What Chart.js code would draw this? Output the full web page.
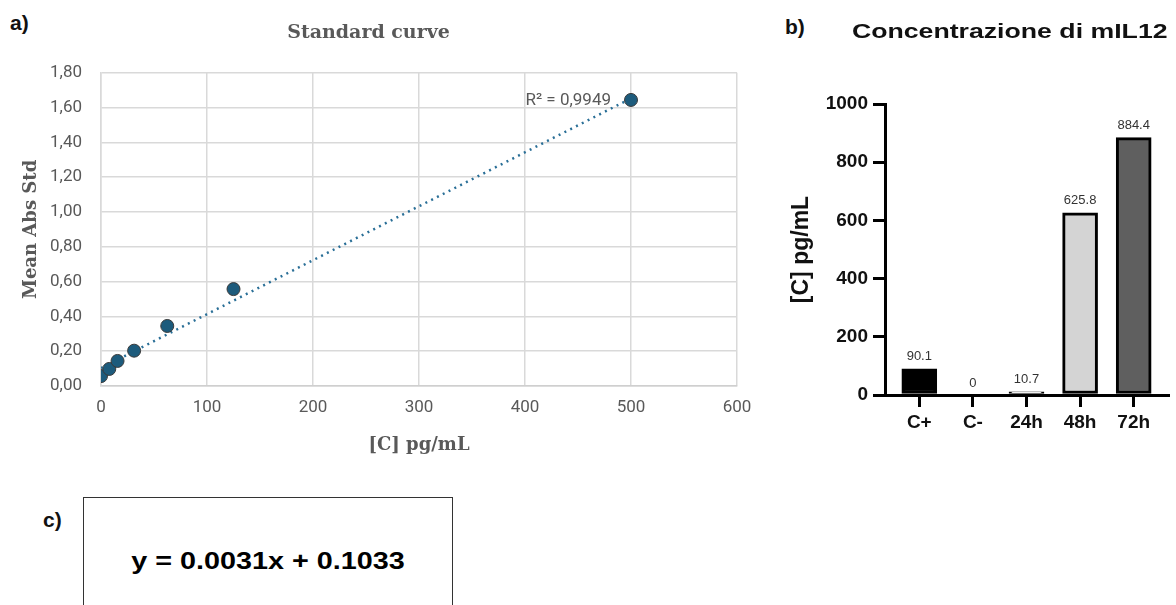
<!DOCTYPE html>
<html lang="it">
<head>
<meta charset="UTF-8">
<title>Standard curve / Concentrazione di mIL12</title>
<script src="https://cdn.jsdelivr.net/npm/chart.js"></script>
<style>
  body { margin: 0; width: 1176px; height: 605px; background: #fff; position: relative; overflow: hidden; font-family: "Liberation Sans", Arial, sans-serif; }
  .lbl { position: absolute; font-weight: bold; font-size: 21px; color: #111; line-height: 1; }
  #wrapA { position: absolute; left: 0; top: 0; width: 770px; height: 470px; }
  #wrapB { position: absolute; left: 780px; top: 0; width: 396px; height: 470px; }
  #titleB { position: absolute; right: 8px; top: 0; height: 40px; width: 360px; overflow: hidden; }
  #titleB span { position: absolute; right: 0; top: 20px; font-weight: bold; font-size: 21px; line-height: 1; color: #111; white-space: nowrap; transform: scaleX(1.27); transform-origin: right center; }
  #boxC { position: absolute; left: 83px; top: 497px; width: 370px; height: 130px; border: 1.5px solid #333; box-sizing: border-box; }
  #eq { position: absolute; left: 0; right: 0; top: 50px; text-align: center; font-weight: bold; font-size: 23px; color: #000; transform: scaleX(1.25); }
</style>
</head>
<body>
  <div class="lbl" style="left:10px; top:12px;">a)</div>
  <div class="lbl" style="left:785px; top:16px;">b)</div>
  <div class="lbl" style="left:43px; top:509px;">c)</div>

  <div id="wrapA"><canvas id="curveChart" width="770" height="470"></canvas></div>
  <div id="wrapB">
    <canvas id="barChart" width="396" height="470"></canvas>
    <div id="titleB"><span>Concentrazione di mIL12</span></div>
  </div>

  <div id="boxC"><div id="eq">y = 0.0031x + 0.1033</div></div>

<script>
// a) standard curve
const stdConc = [0, 7.8, 15.6, 31.25, 62.5, 125, 500];
const stdAbs = [0.057, 0.098, 0.144, 0.203, 0.345, 0.557, 1.644];
const trendConc = [0, 500];
const trendAbs = [0.103, 1.653];
const r2Label = 'R² = 0,9949';

// b) concentrazione mIL12
const groups = ['C+', 'C-', '24h', '48h', '72h'];
const conc = [90.1, 0, 10.7, 625.8, 884.4];
const barFill = ['#000000', '#ffffff', '#ffffff', '#d4d4d4', '#5f5f5f'];

const grey = '#595959';
const gridGrey = '#d9d9d9';

// etichetta R² vicino alla fine della retta
const r2Plugin = {
    id: 'r2',
    afterDatasetsDraw(chart) {
        const { ctx, scales } = chart;
        const x = scales.x.getPixelForValue(trendConc[1]);
        const y = scales.y.getPixelForValue(stdAbs[stdAbs.length - 1]);
        ctx.save();
        ctx.font = '17px Roboto';
        ctx.fillStyle = grey;
        ctx.textAlign = 'right';
        ctx.textBaseline = 'middle';
        ctx.fillText(r2Label, x - 20, y + 1);
        ctx.restore();
    }
};

new Chart(document.getElementById('curveChart'), {
    type: 'scatter',
    data: {
        datasets: [{
            label: 'Mean Abs Std',
            data: stdConc.map((c, i) => ({ x: c, y: stdAbs[i] })),
            backgroundColor: '#1d5b7c',
            borderColor: '#3a3a3a',
            borderWidth: 1,
            pointRadius: 6.5,
            order: 1
        }, {
            label: 'trend',
            data: trendConc.map((c, i) => ({ x: c, y: trendAbs[i] })),
            showLine: true,
            borderColor: '#2a6f97',
            borderWidth: 2.5,
            borderDash: [2, 4.5],
            pointRadius: 0,
            order: 2
        }]
    },
    options: {
        responsive: false,
        animation: false,
        layout: { padding: { left: 0, right: 33, top: 0, bottom: 0 } },
        plugins: {
            legend: { display: false },
            tooltip: { enabled: false },
            title: {
                display: true,
                text: 'Standard curve',
                color: grey,
                font: { family: 'DejaVu Serif', weight: 'bold', size: 19 },
                padding: { top: 22, bottom: 28 }
            }
        },
        scales: {
            x: {
                type: 'linear',
                min: 0, max: 600,
                ticks: { stepSize: 100, color: grey, font: { family: 'Roboto', size: 17 }, padding: 12 },
                grid: { color: gridGrey, lineWidth: 1.5, drawTicks: false },
                border: { color: '#cfcfcf', width: 1.5 },
                title: {
                    display: true, text: '[C] pg/mL', color: grey,
                    font: { family: 'DejaVu Serif', weight: 'bold', size: 18 },
                    padding: { top: 0, bottom: 14 }
                },
                afterFit(s) { s.height = 84; }
            },
            y: {
                min: 0, max: 1.8,
                ticks: {
                    stepSize: 0.2, color: grey, font: { family: 'Roboto', size: 17 }, padding: 19,
                    callback: v => v.toFixed(2).replace('.', ',')
                },
                grid: { color: gridGrey, lineWidth: 1.5, drawTicks: false },
                border: { color: gridGrey, width: 1.5 },
                title: {
                    display: true, text: 'Mean Abs Std', color: grey,
                    font: { family: 'DejaVu Serif', weight: 'bold', size: 18 },
                    padding: { top: 21, bottom: 0 }
                },
                afterFit(s) { s.width = 101; }
            }
        }
    },
    plugins: [r2Plugin]
});

// valori sopra le barre
const valuePlugin = {
    id: 'values',
    afterDatasetsDraw(chart) {
        const { ctx } = chart;
        const meta = chart.getDatasetMeta(0);
        ctx.save();
        ctx.font = '13px "Liberation Sans"';
        ctx.fillStyle = '#333';
        ctx.textAlign = 'center';
        ctx.textBaseline = 'middle';
        meta.data.forEach((bar, i) => {
            ctx.fillText(String(conc[i]), bar.x, bar.y - 12);
        });
        ctx.restore();
    }
};

new Chart(document.getElementById('barChart'), {
    type: 'bar',
    data: {
        datasets: [{
            label: 'mIL12',
            data: groups.map((g, i) => ({ x: i, y: conc[i] })),
            backgroundColor: barFill,
            borderColor: '#000',
            borderWidth: 3,
            borderSkipped: false,
            barThickness: 35
        }]
    },
    options: {
        responsive: false,
        animation: false,
        layout: { padding: { left: 0, right: 8, top: 104, bottom: 0 } },
        plugins: {
            legend: { display: false },
            tooltip: { enabled: false }
        },
        scales: {
            x: {
                type: 'linear',
                offset: false,
                min: -0.64, max: 4.64,
                afterBuildTicks(s) { s.ticks = groups.map((g, i) => ({ value: i })); },
                ticks: {
                    color: '#111', font: { family: 'Liberation Sans', weight: 'bold', size: 19 }, padding: 4,
                    callback: v => groups[v]
                },
                grid: { offset: false, drawOnChartArea: false, drawTicks: true, tickLength: 12, tickWidth: 3, tickColor: '#000', lineWidth: 3, color: '#000' },
                border: { display: true, color: '#000', width: 3 },
                afterFit(s) { s.height = 75; }
            },
            y: {
                min: 0, max: 1000,
                ticks: {
                    stepSize: 200, color: '#111', font: { family: 'Liberation Sans', weight: 'bold', size: 19 }, padding: 5,
                    callback: v => String(v)
                },
                grid: { drawOnChartArea: false, drawTicks: true, tickLength: 12, tickWidth: 3, tickColor: '#000', lineWidth: 3, color: '#000' },
                border: { display: true, color: '#000', width: 3 },
                title: {
                    display: true, text: '[C] pg/mL', color: '#111',
                    font: { family: 'Liberation Sans', weight: 'bold', size: 23 },
                    padding: { top: 8, bottom: 0 }
                },
                afterFit(s) { s.width = 105; }
            }
        }
    },
    plugins: [valuePlugin]
});
</script>
</body>
</html>
